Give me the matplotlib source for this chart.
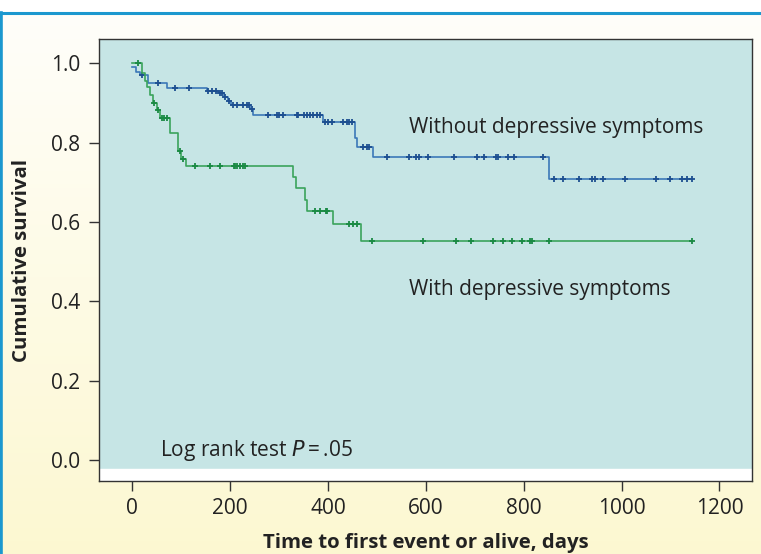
import numpy as np
import matplotlib.pyplot as plt
from matplotlib.lines import Line2D

plt.rcParams['font.family'] = ['Open Sans', 'DejaVu Sans']

# Kaplan-Meier steps: (time in days, survival after the step)
without_t = [0, 8, 15, 33, 71, 152, 178, 188, 195, 201, 240, 247, 390, 455, 460, 492, 851, 1143]
without_s = [0.991, 0.979, 0.97, 0.95, 0.937, 0.93, 0.925, 0.915, 0.905, 0.895, 0.885,
             0.87, 0.852, 0.811, 0.79, 0.765, 0.709, 0.709]
without_cens = [19, 53, 87, 115, 155, 162, 172, 180, 183, 190, 197, 205, 213, 227, 234, 239,
                244, 278, 295, 299, 309, 336, 339, 350, 357, 363, 370, 377, 384, 394, 400,
                408, 431, 439, 442, 449, 472, 479, 484, 521, 566, 580, 585, 605, 658, 704,
                719, 743, 748, 767, 781, 840, 861, 881, 912, 939, 946, 963, 1007, 1071,
                1099, 1123, 1134, 1143]

with_t = [0, 20, 25, 29, 36, 42, 50, 57, 77, 94, 100, 110, 329, 334, 353, 357, 411, 467, 1143]
with_s = [1.0, 0.975, 0.955, 0.94, 0.92, 0.90, 0.882, 0.863, 0.824, 0.78, 0.76, 0.741,
          0.714, 0.685, 0.655, 0.628, 0.594, 0.552, 0.552]
with_cens = [12, 45, 52, 60, 65, 70, 97, 103, 128, 159, 179, 207, 210, 213, 220, 227, 230,
             374, 384, 395, 397, 442, 452, 460, 489, 595, 662, 692, 738, 757, 776, 796,
             812, 817, 852, 1143]

x_ticks = [0, 200, 400, 600, 800, 1000, 1200]
y_ticks = [0.0, 0.2, 0.4, 0.6, 0.8, 1.0]


def level_at(times, steps, levels):
    idx = np.searchsorted(steps, times, side='right') - 1
    return np.asarray(levels)[idx]


W, H = 761, 554
fig = plt.figure(figsize=(W / 100, H / 100), dpi=100)

# page background: pale yellow gradient framed by a blue rule
bg = fig.add_axes([0, 0, 1, 1], zorder=-5)
grad = np.linspace(0, 1, 256)[:, None]
top = np.array([1.0, 0.996, 0.98])
bot = np.array([0.99, 0.972, 0.82])
img = top + (bot - top) * grad[..., None]
bg.imshow(img, aspect='auto', extent=[0, 1, 0, 1 - 13 / H], origin='upper')
bg.set_xlim(0, 1)
bg.set_ylim(0, 1)
bg.axis('off')
fig.add_artist(Line2D([0, 1], [1 - 12.5 / H] * 2, color='#1b98cf', lw=2.2))
fig.add_artist(Line2D([1.5 / W] * 2, [0, 1 - 12.5 / H], color='#1b98cf', lw=2.6))

ax = fig.add_axes([99.3 / W, 1 - 481 / H, (751.7 - 99.3) / W, (481 - 39.3) / H])
ax.set_facecolor('#c6e5e5')
ax.set_xlim(-67.5, 1266)
ax.set_ylim(-0.053, 1.0605)
ax.axhspan(-0.06, -0.0227, color='white', zorder=0)

ax.step(without_t, without_s, where='post', color='#3b78b8', lw=1.2)
ax.plot(without_cens, level_at(without_cens, without_t, without_s), ls='none',
        marker='+', ms=5, mew=1.3, color='#1d4f90')
ax.step(with_t, with_s, where='post', color='#3aa45c', lw=1.2)
ax.plot(with_cens, level_at(with_cens, with_t, with_s), ls='none',
        marker='+', ms=5, mew=1.3, color='#1a8a44')

ax.text(566, 0.837, 'Without depressive symptoms', fontsize=15, color='#222222', va='center')
ax.text(566, 0.43, 'With depressive symptoms', fontsize=15, color='#222222', va='center')
ax.text(57, 0.023, 'Log rank test $P$\u2009=\u2009.05', fontsize=15, color='#222222',
        va='center')

ax.set_xticks(x_ticks)
ax.set_yticks(y_ticks)
ax.set_yticklabels([f'{v:.1f}' for v in y_ticks])
ax.tick_params(length=7.5, width=1, color='#333333', labelsize=15, labelcolor='#222222')
ax.tick_params(axis='x', pad=5)
ax.tick_params(axis='y', pad=6)
for sp in ax.spines.values():
    sp.set_color('#333333')
    sp.set_linewidth(1)

ax.set_xlabel('Time to first event or alive, days', fontsize=14.7, fontweight='bold',
              color='#222222', va='center')
ax.xaxis.set_label_coords(0.5, -(543 - 481) / (481 - 39.3))
ax.set_ylabel('Cumulative survival', fontsize=14.7, fontweight='bold', color='#222222',
              va='center')
ax.yaxis.set_label_coords(-(99.3 - 22) / (751.7 - 99.3), 0.5)

fig.savefig('out.png', dpi=100)
